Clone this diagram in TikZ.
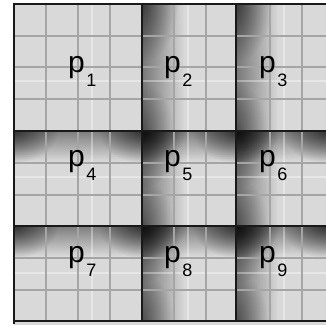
\documentclass[tikz,border=0pt]{standalone}
\usepackage{fontspec}
\setmainfont{Liberation Sans}
\usetikzlibrary{fadings}
\tikzfading[name=fadeR, left color=transparent!0, right color=transparent!100]
\tikzfading[name=fadeD, top color=transparent!0, bottom color=transparent!100]
\tikzfading[name=blobfade, inner color=transparent!0, outer color=transparent!100]
\definecolor{patchfill}{RGB}{217,217,217}
\definecolor{gridc}{RGB}{165,165,165}
\tikzset{
  gridline/.style={draw=gridc, line width=1.8pt},
  faintline/.style={draw=white, opacity=0.35, line width=1.3pt},
  border/.style={draw=black!90, line width=2.3pt},
  lab/.style={inner sep=0pt, anchor=base west, font=\fontsize{30}{30}\selectfont},
}
\newcommand{\pl}[1]{p\kern1.5pt\raisebox{-14pt}{\fontsize{18}{18}\selectfont #1}}
% left shadow: x, y0 (bottom), y1 (top)
\newcommand{\shL}[3]{%
  \begin{scope}
    \clip (#1,#2) rectangle (#1+80,#3);
    \fill[black, opacity=0.45, path fading=fadeR] (#1,#2) rectangle (#1+42,#3);
    \fill[black, opacity=0.5, path fading=blobfade] (#1,#3) ellipse (36 and 58);
    \fill[black, opacity=0.35, path fading=blobfade] (#1,#2) ellipse (32 and 48);
  \end{scope}}
% top shadow: y (top), x0, x1
\newcommand{\shT}[3]{%
  \begin{scope}
    \clip (#2,#1-60) rectangle (#3,#1);
    \fill[black, opacity=0.42, path fading=fadeD] (#2,#1-30) rectangle (#3,#1);
    \fill[black, opacity=0.6, path fading=blobfade] (#2,#1) ellipse (44 and 32);
    \fill[black, opacity=0.6, path fading=blobfade] (#3,#1) ellipse (44 and 32);
  \end{scope}}
\begin{document}
\begin{tikzpicture}[x=1pt,y=1pt]
\useasboundingbox (0,0) rectangle (326,325);
\fill[white] (0,0) rectangle (326,325);
\fill[patchfill] (14,0) rectangle (326,321);
% shadows
\shL{142}{194}{321}
\shL{236}{194}{321}
\shL{142}{99}{194}
\shL{236}{99}{194}
\shL{142}{4}{99}
\shL{236}{4}{99}
\shT{194}{14}{142}
\shT{194}{142}{236}
\shT{194}{236}{326}
\shT{99}{14}{142}
\shT{99}{142}{236}
\shT{99}{236}{326}
% faint light lines
\foreach \fx in {92,188,284}
  \draw[faintline] (\fx,4) -- (\fx,321);
\foreach \fy in {244,148,52}
  \draw[faintline] (14,\fy) -- (326,\fy);
% light grid
\foreach \gx in {46,78,110,174,206,270,302}
  \draw[gridline] (\gx,4) -- (\gx,321);
\foreach \gy in {289,258,226,162,130,67,35}
  \draw[gridline] (14,\gy) -- (326,\gy);
% borders
\draw[border] (14,1) -- (14,322);
\draw[border] (13,321) -- (326,321);
\draw[border] (13,4) -- (326,4);
\draw[border] (142,4) -- (142,321);
\draw[border] (236,4) -- (236,321);
\draw[border] (13,194) -- (326,194);
\draw[border] (13,99) -- (326,99);
% labels
\node[lab] (p1) at (68,253) {\pl{1}};
\node[lab] (p2) at (164,253) {\pl{2}};
\node[lab] (p3) at (259,253) {\pl{3}};
\node[lab] (p4) at (68,158.5) {\pl{4}};
\node[lab] (p5) at (164,158.5) {\pl{5}};
\node[lab] (p6) at (259,158.5) {\pl{6}};
\node[lab] (p7) at (68,62.5) {\pl{7}};
\node[lab] (p8) at (164,62.5) {\pl{8}};
\node[lab] (p9) at (259,62.5) {\pl{9}};
\end{tikzpicture}
\end{document}
